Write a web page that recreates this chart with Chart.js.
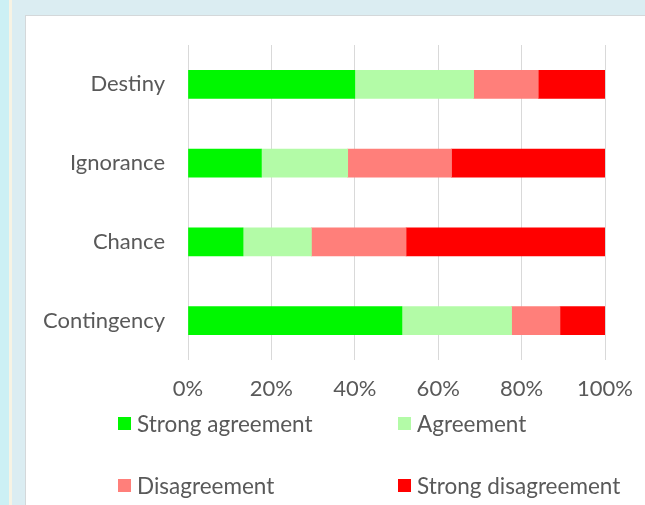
<!DOCTYPE html>
<html>
<head>
<meta charset="utf-8">
<script src="https://cdn.jsdelivr.net/npm/chart.js@4/dist/chart.umd.min.js"></script>
<style>
html, body { margin:0; padding:0; }
body { width:645px; height:505px; background:#dbedf2; position:relative; overflow:hidden; font-family:Lato, sans-serif; }
#stripe { position:absolute; left:0; top:0; width:9px; height:505px; background:#ccf0f4; }
#cream { position:absolute; left:9px; top:0; width:3px; height:505px; background:#f7f3e4; }
#panel { position:absolute; left:25px; top:15px; width:640px; height:500px; background:#fff; border:1px solid #d4d8da; }
#wrap { position:absolute; left:0; top:0; width:645px; height:505px; }
#legend { position:absolute; left:118px; top:410px; display:grid; grid-template-columns:280px 280px; grid-auto-rows:62px; }
.item { display:flex; align-items:center; height:27px; color:#595959; font-size:22.5px; white-space:nowrap; }
.box { width:13px; height:13px; margin-right:6px; flex:none; }
</style>
</head>
<body>
<div id="stripe"></div>
<div id="cream"></div>
<div id="panel"></div>
<div id="wrap"><canvas id="chart"></canvas></div>
<div id="legend"></div>
<script>
// data (percent of answers)
var categories = ['Destiny', 'Ignorance', 'Chance', 'Contingency'];
var seriesNames = ['Strong agreement', 'Agreement', 'Disagreement', 'Strong disagreement'];
var strongAgreement = [40, 17.6, 13.2, 51.3];
var agreement = [28.5, 20.7, 16.4, 26.3];
var disagreement = [15.5, 24.9, 22.7, 11.6];
var strongDisagreement = [16, 36.8, 47.7, 10.8];
var xTicks = [0, 20, 40, 60, 80, 100];

var colors = ['#00f700', '#b3fba7', '#ff7f7a', '#ff0000'];
var textColor = '#595959';
var font = { family: 'Lato', size: 22 };

var allSeries = [strongAgreement, agreement, disagreement, strongDisagreement];
var datasets = [];
for (var i = 0; i < seriesNames.length; i++) {
    datasets.push({
        label: seriesNames[i],
        data: allSeries[i],
        backgroundColor: colors[i],
        borderWidth: 0,
        barThickness: 28
    });
}

var ctx = document.getElementById('chart').getContext('2d');
var chart = new Chart(ctx, {
    type: 'bar',
    data: { labels: categories, datasets: datasets },
    options: {
        indexAxis: 'y',
        animation: false,
        responsive: true,
        maintainAspectRatio: false,
        layout: { padding: { top: 45, left: 0, right: 40, bottom: 0 } },
        plugins: {
            legend: { display: false },
            tooltip: { enabled: false }
        },
        scales: {
            x: {
                stacked: true,
                min: 0,
                max: 100,
                afterBuildTicks: function (scale) {
                    scale.ticks = xTicks.map(function (v) { return { value: v }; });
                },
                afterFit: function (scale) {
                    scale.height = 145;
                    // keep the plot right edge where the original has it
                    scale.paddingRight = 0;
                },
                grid: { color: '#d9d9d9', lineWidth: 1, drawTicks: false },
                border: { display: false },
                ticks: {
                    padding: 16,
                    maxRotation: 0,
                    color: textColor,
                    font: font,
                    callback: function (v) { return v + '%'; }
                }
            },
            y: {
                stacked: true,
                afterFit: function (scale) { scale.width = 188; },
                grid: { display: false, drawTicks: false },
                border: { display: false },
                ticks: { padding: 23, color: textColor, font: font }
            }
        }
    }
});

// legend laid out as a 2x2 grid like the original
var legend = document.getElementById('legend');
chart.data.datasets.forEach(function (ds) {
    var item = document.createElement('div');
    item.className = 'item';
    var box = document.createElement('span');
    box.className = 'box';
    box.style.background = ds.backgroundColor;
    var txt = document.createElement('span');
    txt.textContent = ds.label;
    item.appendChild(box);
    item.appendChild(txt);
    legend.appendChild(item);
});
</script>
</body>
</html>
